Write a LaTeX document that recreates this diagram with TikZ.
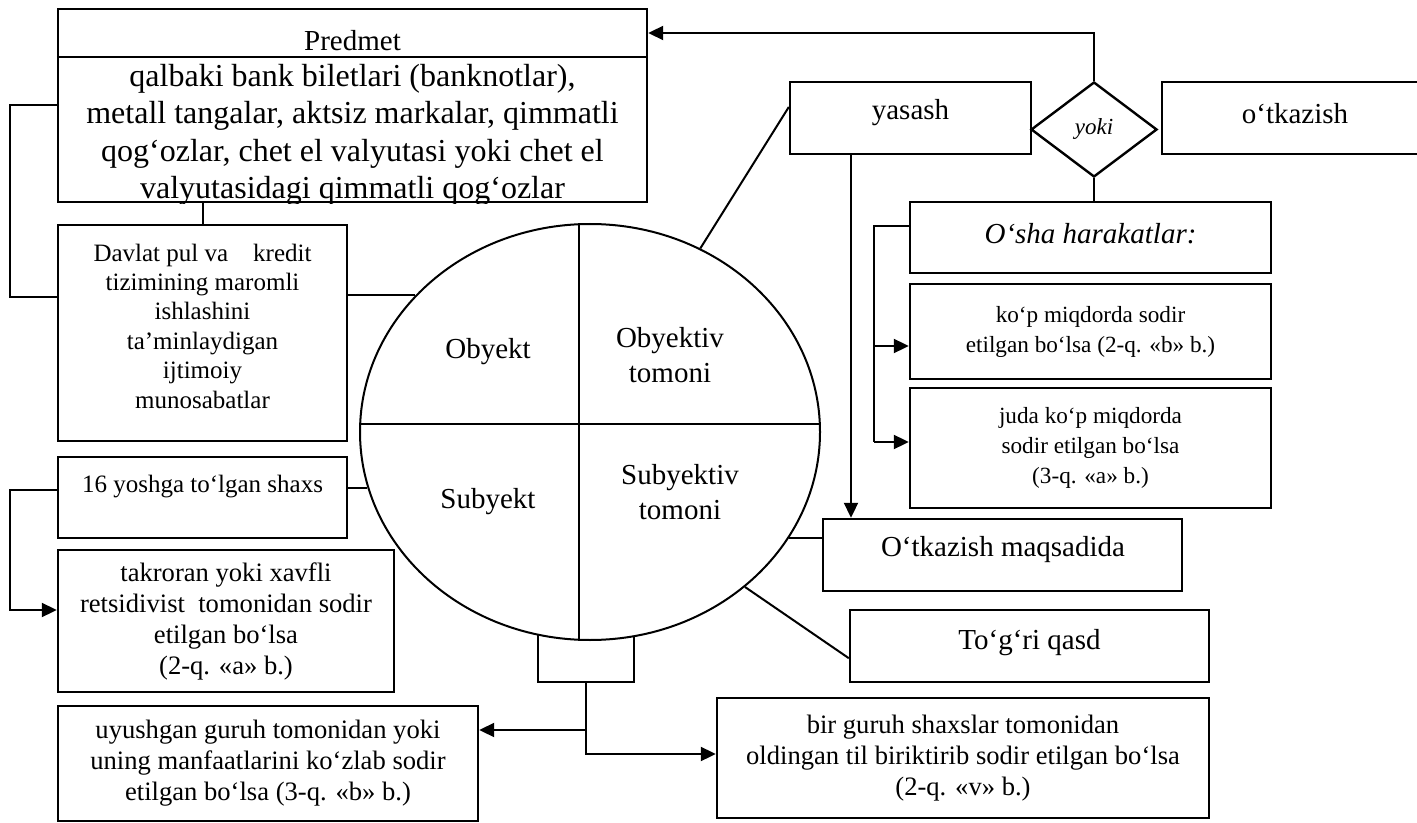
\documentclass[tikz,border=0pt]{standalone}
\usepackage{fontspec}
\setmainfont{Liberation Serif}
\usetikzlibrary{arrows.meta,shapes.geometric}
\newcommand{\fbig}{\fontsize{16pt}{18.75pt}\selectfont}
\newcommand{\fmid}{\fontsize{14.5pt}{17.5pt}\selectfont}
\newcommand{\fsml}{\fontsize{13.3pt}{15.5pt}\selectfont}
\newcommand{\fdav}{\fontsize{12.5pt}{14.7pt}\selectfont}
\newcommand{\fkop}{\fontsize{11.6pt}{15pt}\selectfont}
\newcommand{\fyoki}{\fontsize{11.5pt}{13pt}\selectfont\itshape}

\begin{document}
\begin{tikzpicture}[x=.5pt,y=-.5pt,>={Triangle[length=7.5pt,width=7pt]},
                     line join=miter,font=\fmid,
                     blok/.style={draw,rectangle,line width=1.2pt,
                                  inner sep=0pt,align=center},
                     chiziq/.style={line width=1pt}]
  \useasboundingbox (0,0) rectangle (1417,823);
  \fill[white] (0,0) rectangle (1417,823);
  \clip (0,0) rectangle (1417,823);
  % Predmet bloki
  \node[blok,minimum width=294.5pt,minimum height=96.5pt]
       (predmet) at (352.5,105.5) {};
  \coordinate (pdiv) at (0,57);
  \draw[line width=1.2pt] (predmet.west |- pdiv) -- (predmet.east |- pdiv);
  \node (predmet-t) at (352.5,41) {Predmet};
  \begin{scope}
    \clip (predmet.south west) rectangle (pdiv -| predmet.east);
    \node[font=\fbig,align=center,inner sep=0pt] (predmet-b) at (352.5,135)
         {qalbaki bank biletlari (banknotlar),\\
          metall tangalar, aktsiz markalar, qimmatli\\
          qog‘ozlar, chet el valyutasi yoki chet el\\
          valyutasidagi qimmatli qog‘ozlar};
  \end{scope}
  % Chap ustun
  \node[blok,minimum width=144.5pt,minimum height=108pt]
       (davlat) at (202.5,333) {};
  \node[font=\fdav,align=center] (davlat-t) at (202.5,326)
       {Davlat pul va~~~~kredit\\tizimining maromli\\ishlashini\\
        ta’minlaydigan\\ijtimoiy\\munosabatlar};
  \node[blok,minimum width=144.5pt,minimum height=40.5pt]
       (yosh16) at (202.5,497.5) {};
  \node[font=\fdav] (yosh16-t) at (202.5,487) {16 yoshga to‘lgan shaxs};
  \node[blok,font=\fsml,minimum width=168pt,minimum height=71pt]
       (takror) at (226,621)
       {takroran yoki xavfli\\retsidivist~ tomonidan sodir\\
        etilgan bo‘lsa\\(2-q. «a» b.)};
  \node[blok,font=\fsml,minimum width=210pt,minimum height=57.5pt]
       (uyush) at (268,763.5)
       {uyushgan guruh tomonidan yoki\\uning manfaatlarini ko‘zlab sodir\\
        etilgan bo‘lsa (3-q. «b» b.)};
  % Yuqori o'ng qism
  \node[blok,minimum width=120.5pt,minimum height=36pt]
       (yasash) at (910.5,118) {};
  \node (yasash-t) at (910.5,113) {yasash};
  \node[diamond,draw,line width=1.2pt,minimum width=63pt,
        minimum height=47.5pt,inner sep=0pt,font=\fyoki]
       (yoki) at (1094,129.5) {yoki};
  \node[blok,minimum width=134pt,minimum height=36pt]
       (otkaz) at (1296,118) {};
  \node (otkaz-t) at (1295,114) {o‘tkazish};
  \node[blok,minimum width=180.5pt,minimum height=35.5pt]
       (osha) at (1090.5,237.5) {};
  \node[font=\fmid\itshape] (osha-t) at (1090.5,234) {O‘sha harakatlar:};
  \node[blok,font=\fkop,minimum width=180.5pt,minimum height=47.5pt]
       (kop) at (1090.5,331.5)
       {ko‘p miqdorda sodir\\etilgan bo‘lsa (2-q. «b» b.)};
  \node[blok,font=\fkop,minimum width=180.5pt,minimum height=60pt]
       (juda) at (1090.5,448)
       {juda ko‘p miqdorda\\sodir etilgan bo‘lsa\\(3-q. «a» b.)};
  % Pastki o'ng qism
  \node[blok,minimum width=179.5pt,minimum height=36pt]
       (maqsad) at (1002.5,555) {};
  \node (maqsad-t) at (1003,550) {O‘tkazish maqsadida};
  \node[blok,minimum width=179.5pt,minimum height=36pt]
       (qasd) at (1029.5,646) {};
  \node (qasd-t) at (1029.5,643) {To‘g‘ri qasd};
  \node[blok,font=\fsml,minimum width=246pt,minimum height=60pt]
       (birg) at (963,758)
       {bir guruh shaxslar tomonidan\\
        oldingan til biriktirib sodir etilgan bo‘lsa\\(2-q. «v» b.)};
  % Markaziy ellips
  \node[blok,minimum width=48pt,minimum height=41pt] (small) at (586,641) {};
  \node[ellipse,draw,fill=white,line width=1pt,minimum width=230pt,
        minimum height=208pt,inner sep=0pt] (core) at (590,432) {};
  \draw[chiziq] (core.93) -- (core.267);
  \draw[chiziq] (core.178) -- (core.2);
  \node (obyekt) at (488,352) {Obyekt};
  \node[align=center] (obtom) at (670,355) {Obyektiv\\tomoni};
  \node (subyekt) at (488,502) {Subyekt};
  \node[align=center] (subtom) at (680,492) {Subyektiv\\tomoni};
  % Bog'lovchi chiziqlar
  \coordinate (lb1) at (10,297);
  \draw[chiziq] (predmet.west) -| (lb1) -- (lb1 -| davlat.west);
  \draw[chiziq] (predmet.south -| davlat.north) -- (davlat.north);
  \draw[chiziq] (davlat.east |- core.142) -- (core.142);
  \draw[chiziq] (yosh16.east |- core.194) -- (core.194);
  \coordinate (lb2) at (10,490);
  \coordinate (lb3) at (10,610);
  \draw[chiziq,->] (lb2 -| yosh16.west) -- (lb2) -- (lb3)
       -- (lb3 -| takror.west);
  \coordinate (tp) at (0,33);
  \draw[chiziq,->] (yoki.north) |- (tp -| predmet.east);
  \draw[chiziq] (yoki.south) -- (yoki.south |- osha.north);
  \draw[chiziq] ([yshift=5.5pt]yasash.west) -- (core.59);
  \coordinate (ys) at (851,0);
  \draw[chiziq,->] (yasash.south -| ys) -- (maqsad.north -| ys);
  \coordinate (rb1) at (874,226);
  \coordinate (rb2) at (874,346);
  \coordinate (rb3) at (874,442);
  \draw[chiziq] (rb1 -| osha.west) -- (rb1) -- (rb3);
  \draw[chiziq,->] (rb2) -- (rb2 -| kop.west);
  \draw[chiziq,->] (rb3) -- (rb3 -| juda.west);
  \draw[chiziq] (core.332) -- (maqsad.west |- core.332);
  \draw[chiziq] (core.315) -- ([yshift=12.5pt]qasd.south west);
  \coordinate (uj) at (0,730);
  \coordinate (bj) at (0,754);
  \draw[chiziq,->] (small.south) |- (bj -| birg.west);
  \draw[chiziq,->] (small.south |- uj) -- (uj -| uyush.east);
\end{tikzpicture}
\end{document}
